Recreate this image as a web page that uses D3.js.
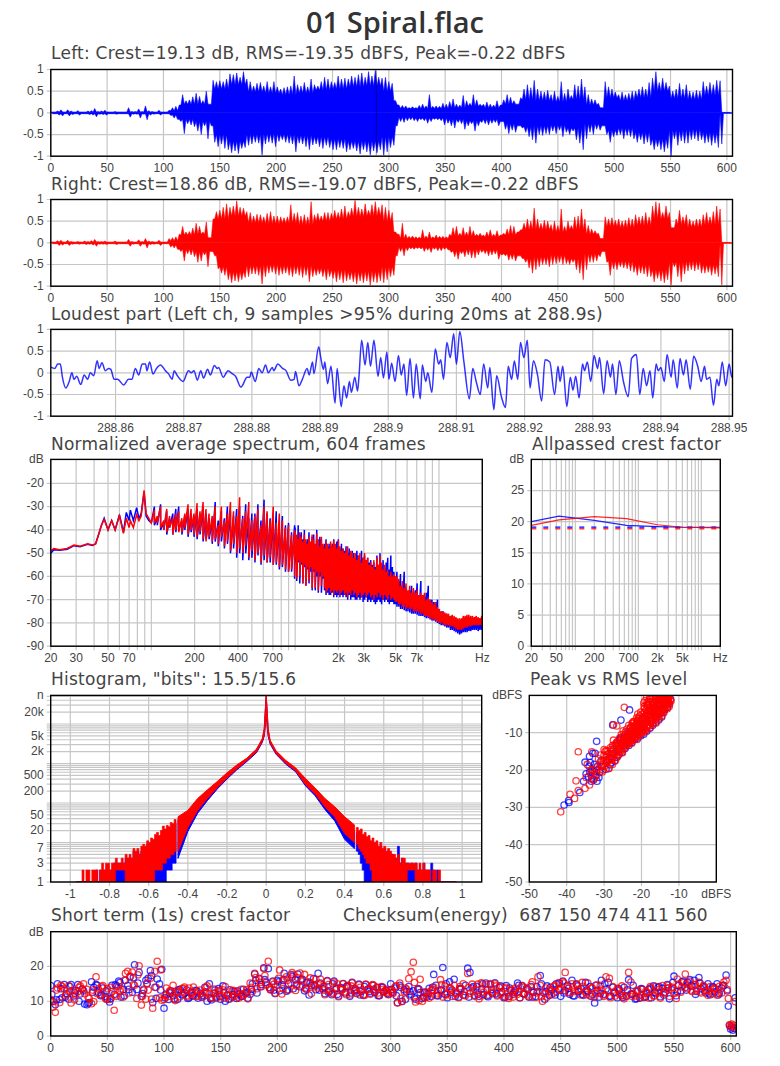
<!DOCTYPE html>
<html>
<head>
<meta charset="utf-8">
<script src="https://cdn.jsdelivr.net/npm/d3@7"></script>
<style>
  html, body { margin: 0; background: #fff; overflow: hidden; }
  svg { display: block; }
</style>
</head>
<body>
<svg id="chart" width="780" height="1066"></svg>
<script>
// waveform peaks, one value every 3 s
const waveStep = 3;
const leftTop = [
  .02,.02,.04,.07,.02,.07,.04,.02,.05,.02, .02,.04,.05,.1,.03,.04,.06,.02,.02,.03,
  .02,.02,.02,.12,.03,.03,.09,.03,.16,.05, .03,.02,.06,.02,.02,.06,.12,.15,.18,.42,
  .28,.3,.37,.45,.38,.28,.5,.2,.75,.72, .74,.72,.78,.9,.88,.92,.82,.95,.78,.72,
  .62,.68,.7,.62,.72,.6,.72,.6,.55,.58, .6,.62,.85,.65,.62,.7,.6,.78,.65,.62,
  .72,.82,.78,.72,.7,.85,.78,.8,.78,.85, .82,.88,.92,.82,.95,.85,.98,.82,.8,.82,
  .72,.68,.28,.18,.17,.16,.12,.14,.12,.17, .2,.16,.42,.15,.16,.15,.22,.2,.26,.32,
  .2,.18,.4,.28,.22,.42,.3,.2,.2,.25, .2,.18,.28,.18,.3,.42,.36,.28,.2,.35,
  .55,.65,.58,.75,.55,.5,.48,.52,.42,.5, .38,.72,.45,.55,.4,.65,.62,.78,.6,.42,
  .32,.3,.22,.12,.72,.6,.55,.48,.42,.48, .42,.45,.5,.5,.55,.6,.55,.7,.8,.95,
  .7,.8,.7,.62,.5,.55,.68,.55,.65,.5, .48,.52,.5,.72,.62,.7,.65,.75,.74,.01, .01,.01];
const leftBottom = [
  -.02,-.02,-.05,-.07,-.02,-.07,-.04,-.02,-.05,-.02, -.02,-.04,-.05,-.09,-.03,-.04,-.05,-.02,-.02,-.03,
  -.02,-.02,-.02,-.1,-.03,-.03,-.12,-.03,-.16,-.05, -.03,-.02,-.05,-.02,-.02,-.06,-.12,-.15,-.2,-.48,
  -.25,-.28,-.32,-.42,-.5,-.3,-.6,-.3,-.68,-.78, -.72,-.82,-.85,-.92,-.88,-.94,-.82,-.8,-.75,-.72,
  -.68,-.7,-.97,-.72,-.68,-.7,-.78,-.66,-.62,-.68, -.7,-.72,-.9,-.7,-.72,-.78,-.85,-.74,-.72,-.78,
  -.82,-.75,-.8,-.85,-.85,-.8,-.82,-.9,-.85,-.82, -.88,-.95,-.85,-.9,-.97,-.88,-.92,-.85,-.98,-.9,
  -.8,-.75,-.3,-.2,-.22,-.18,-.16,-.18,-.2,-.16, -.18,-.24,-.2,-.15,-.16,-.18,-.28,-.24,-.3,-.35,
  -.22,-.25,-.38,-.3,-.25,-.42,-.3,-.22,-.25,-.28, -.24,-.22,-.3,-.2,-.38,-.48,-.4,-.45,-.3,-.35,
  -.45,-.55,-.62,-.7,-.5,-.52,-.48,-.5,-.42,-.48, -.4,-.55,-.45,-.5,-.42,-.62,-.7,-.85,-.6,-.45,
  -.5,-.38,-.4,-.3,-.5,-.68,-.55,-.52,-.5,-.6, -.52,-.55,-.6,-.68,-.62,-.72,-.68,-.75,-.85,-.78,
  -.85,-.9,-.82,-1,-.6,-.75,-.65,-.7,-.7,-.62, -.6,-.65,-.62,-.7,-.68,-.75,-.7,-.8,-.72,-.01, -.01,-.01];
const rightTop = [
  .02,.02,.05,.06,.02,.06,.03,.02,.03,.02, .04,.03,.05,.08,.03,.03,.04,.02,.02,.04,
  .02,.02,.02,.08,.03,.02,.07,.03,.1,.04, .03,.02,.06,.02,.02,.1,.12,.14,.2,.38,
  .25,.26,.34,.45,.38,.25,.48,.12,.55,.72, .75,.82,.9,.82,.85,.97,.82,.8,.72,.7,
  .62,.66,.65,.6,.68,.72,.62,.62,.6,.58, .6,.88,.68,.7,.62,.65,.6,.95,.65,.68,
  .62,.7,.7,.68,.75,.7,.78,.85,.72,.8, .98,.82,.78,.9,.75,.88,.95,.82,.88,.82,
  .75,.7,.25,.2,.45,.2,.15,.16,.14,.13, .3,.16,.25,.14,.18,.15,.15,.14,.2,.35,
  .38,.22,.35,.25,.38,.28,.2,.22,.18,.25, .3,.2,.28,.18,.22,.32,.4,.38,.25,.3,
  .45,.55,.5,.8,.55,.45,.52,.5,.42,.5, .4,.78,.38,.5,.4,.6,.62,.78,.55,.4,
  .32,.28,.22,.1,.6,.55,.58,.52,.55,.5, .52,.58,.55,.65,.6,.62,.7,.6,.85,.95,
  .92,.7,.85,.7,.35,.55,.75,.6,.65,.55, .5,.55,.55,.65,.7,.6,.72,.85,.78,.01, .01,.01];
const rightBottom = [
  -.02,-.02,-.06,-.05,-.02,-.06,-.03,-.02,-.03,-.02, -.04,-.03,-.05,-.08,-.03,-.03,-.04,-.02,-.02,-.04,
  -.02,-.02,-.02,-.08,-.03,-.02,-.08,-.03,-.12,-.04, -.03,-.02,-.06,-.02,-.02,-.1,-.12,-.15,-.2,-.42,
  -.25,-.28,-.32,-.45,-.42,-.28,-.55,-.2,-.3,-.6, -.7,-.75,-.85,-.92,-.88,-.9,-.85,-.8,-.78,-.72,
  -.72,-.75,-.95,-.78,-.7,-.68,-.72,-.75,-.72,-.7, -.75,-.78,-.72,-.75,-.8,-.75,-.9,-.78,-.75,-.72,
  -.78,-.85,-.78,-.82,-.9,-.85,-.92,-.88,-.85,-.9, -.95,-.88,-.92,-.88,-.98,-.9,-.92,-.88,-.92,-.85,
  -.78,-.75,-.3,-.2,-.3,-.18,-.14,-.15,-.13,-.14, -.2,-.17,-.22,-.15,-.18,-.18,-.15,-.16,-.22,-.32,
  -.38,-.25,-.32,-.28,-.35,-.35,-.28,-.22,-.25,-.3, -.28,-.26,-.38,-.28,-.3,-.4,-.38,-.42,-.3,-.36,
  -.45,-.58,-.7,-.62,-.55,-.5,-.5,-.55,-.5,-.48, -.45,-.5,-.48,-.5,-.45,-.62,-.7,-.85,-.62,-.45,
  -.45,-.42,-.32,-.2,-.45,-.75,-.6,-.62,-.55,-.58, -.6,-.65,-.68,-.75,-.7,-.72,-.78,-.78,-.9,-.82,
  -.88,-.92,-.85,-.97,-.55,-.78,-.9,-.72,-.65,-.62, -.65,-.62,-.7,-.7,-.68,-.75,-.72,-.78,-.97,-.01, -.01,-.01];
// solid body of the waveforms, one value every 15 s
const bodyStep = 15;
const leftBodyTop = [.02,.02,.02,.02,.02,.02,.02,.05,.2,.2,.55,.65,.48,.45,.42,.45,.52,.55,.6,.62,.5,.1,.1,.1,.12,.15,.12,.2,.3,.28,.25,.3,.18,.35,.28,.35,.5,.33,.3,.4,.01];
const leftBodyBottom = [-.02,-.02,-.02,-.02,-.02,-.02,-.02,-.05,-.15,-.2,-.5,-.65,-.5,-.48,-.5,-.52,-.55,-.6,-.65,-.65,-.55,-.1,-.12,-.12,-.15,-.18,-.15,-.25,-.32,-.3,-.28,-.35,-.25,-.4,-.35,-.45,-.6,-.4,-.38,-.45,-.01];
const rightBodyTop = [.02,.02,.02,.02,.02,.02,.02,.05,.18,.2,.55,.62,.46,.44,.45,.42,.5,.55,.6,.62,.5,.1,.1,.1,.16,.15,.14,.18,.3,.3,.25,.3,.2,.38,.35,.4,.55,.42,.36,.42,.01];
const rightBodyBottom = [-.02,-.02,-.02,-.02,-.02,-.02,-.02,-.05,-.15,-.2,-.55,-.66,-.52,-.5,-.52,-.52,-.58,-.62,-.66,-.65,-.55,-.1,-.1,-.1,-.18,-.15,-.16,-.25,-.36,-.32,-.28,-.36,-.25,-.42,-.42,-.5,-.62,-.44,-.42,-.5,-.01];
const waveTicks = [0,50,100,150,200,250,300,350,400,450,500,550,600];
const unitTicks = [-1,-0.5,0,0.5,1];
const loudestMark = 288.9;

// loudest part: ms after 288.85 s, and level
const loudMs = [.5,1.1,1.5,1.9,2.2,2.7,3.2,3.6,3.9,4.3,4.9,5.4,5.9,6.3,6.8,7.3,7.6,8,8.5,9,9.3,9.8,10.3,11.2,11.9,12.4,12.9,13.4,13.9,14.4,14.6,15,15.5,16,16.6,17.3,17.8,18.3,18.6,19,19.9,20.7,21.1,21.5,22,22.5,22.9,23.5,23.9,24.5,24.9,25.1,25.8,26.5,27.1,27.6,28.4,29.3,29.7,29.9,30.5,31,31.5,32,32.4,33,33.2,33.8,34.5,35,35.7,36.2,36.4,36.9,37.4,38.1,38.4,38.9,39.1,39.8,40.1,40.5,40.7,41.1,41.6,42.2,42.5,43.1,43.5,43.9,44.3,44.6,45.1,45.5,45.7,46.1,46.6,47,47.4,47.9,48.5,
  48.9,49.3,49.8,50.1,50.5,51,51.5,51.9,52.3,52.7,53.2,53.7,54.1,54.7,55,55.5,55.8,56.4,56.9,57.4,57.7,58.1,58.6,59.1,59.6,60,60.5,61.1,61.9,62.4,62.9,63.5,64,64.6,64.9,65.5,65.9,66.6,67.2,67.6,68.1,68.5,69,69.4,69.9,70.4,70.8,71.3,71.9,72.5,73,73.7,74.4,74.9,75.2,75.6,76.2,76.7,77.1,77.5,78,78.5,78.8,79.2,79.7,80.2,80.7,81,81.6,82.1,82.6,82.9,83.4,83.9,84.5,85.2,85.7,86.4,86.9,87.4,87.9,88.4,88.8,89.3,89.6,90,90.5,90.9,91.5,91.8,92.4,92.8,93.3,93.7,94.3,94.8,95.4,95.9,96.4,96.7,97.2,97.7,98.2,98.5,99,99.5,100,100.4,100.6];
const loudLevel = [.13,.1,.2,.2,-.1,-.35,-.2,0,-.15,-.08,-.27,-.05,-.15,0,-.07,.28,.1,.23,.05,.1,.08,-.15,-.15,-.28,-.15,-.15,.1,-.05,.2,.2,.05,.25,-.03,.1,.18,.05,-.03,-.15,.05,-.05,-.2,.05,0,.05,-.17,.05,-.12,.08,-.05,.17,.1,.12,-.1,.05,-.02,-.08,-.33,-.1,-.1,.02,-.2,.1,0,.18,0,.12,.05,.2,.1,.05,-.17,-.15,.03,-.3,-.15,.1,-.05,.25,-.02,.6,.35,.08,.25,-.25,.15,-.7,.1,-.78,-.3,-.58,-.2,-.45,-.1,-.42,-.1,.75,.18,.7,.15,.75,-.08,
  .35,-.12,.48,-.15,.22,-.2,.4,-.05,.2,-.52,.33,-.58,.2,-.6,.18,-.2,0,-.45,.55,.2,.3,-.15,.7,.35,.9,.2,.95,.25,-.6,.1,-.2,-.5,.2,-.35,.12,-.85,-.07,-.55,-.8,.15,-.15,.27,-.15,.7,.35,.75,-.35,.28,-.05,-.65,.3,.25,-.5,.15,-.2,.15,-.78,-.1,-.4,-.08,-.58,.2,.05,.25,-.2,.4,.1,.35,-.48,.28,-.1,.2,-.5,.28,-.2,-.55,.33,.42,-.5,.1,-.3,.05,-.58,.2,.05,.12,-.2,.42,-.1,.3,-.35,.33,-.05,.3,-.38,.38,.15,-.2,.15,-.15,-.1,-.75,-.15,-.3,.25,-.3,.2,-.1,.02];
const loudTicks = [288.86,288.87,288.88,288.89,288.9,288.91,288.92,288.93,288.94,288.95];

// average spectrum below 100 Hz
const specLowFreq = [20,21,23,26,29,32,36,39,41,43,45,47,50,53,56,60,64,67,70,71.5,75,79,82,85,89,92,96,100];
const specLowRed = [-49,-48,-48.5,-48,-46.5,-47,-46,-46.5,-46,-42,-38,-35.5,-40,-36,-40,-34,-41.5,-35,-39,-36,-39,-33.5,-36,-34,-23,-33,-35,-37];
const specLowBlue = [-50,-48.5,-48.8,-48.3,-46.8,-47.2,-46.2,-46.7,-46,-42,-38,-35,-40,-36,-40,-33.5,-41,-32.5,-36,-31.5,-36,-30.5,-35,-33,-24,-34,-36,-37];
// above 100 Hz: top and bottom of the comb per frequency
const combFreq = [105,110,116,122,128,134,141,148,155,163,171,180,189,198,208,218,229,240,252,265,278,292,307,322,338,355,373,392,411,432,453,476,500,525,551,579,608,638,670,704,739,776,815,856,899,944,991,
  1000,1025,1050,1076,1103,1131,1159,1188,1218,1248,1280,1312,1345,1378,1413,1448,1485,1522,1560,1599,1639,1680,1722,1765,1809,1854,1901,1948,1997,2047,2098,2151,2204,2259,2316,2374,2433,2494,2557,2620,2686,2753,2822,2893,2965,3039,3115,3193,3273,3355,3439,3525,3613,3703,3796,3891,3988,4088,4190,4295,4402,4512,4625,4741,4859,4981,
  5100,5250,5400,5560,5730,5900,6080,6260,6450,6640,6840,7050,7260,7480,7700,7930,8170,8420,8670,8930,9200,9470,9760,10050,10350,10660,10980,11310,11650,12000,12360,12730,13110,13500,13910,14330,14760,15200,15660,16130,16610,17110,17620,18150,18700,19260,19840,20000];
const combRedHi = [-31.5,-34,-30,-36,-31,-34,-35,-33,-32,-35,-33,-29,-31,-33,-28.5,-32,-28,-31,-33,-34,-30,-38,-30,-36,-33,-28,-32,-34,-26,-35,-32,-28,-36,-34,-31,-38,-30,-32,-36,-30,-37,-33,-36,-39,-38,-42,-40,
  -41,-42,-44,-41,-43,-45,-42,-44,-46,-43,-45,-42,-44,-46,-41.5,-44,-47,-43,-46,-48,-45,-46,-48,-45,-47,-44.5,-46,-48,-44.5,-47,-49,-48,-50,-49,-47,-51,-49,-50,-52,-50,-53,-51,-50,-54,-52,-50,-53,-52,-55,-54,-56,-53,-57,-52,-55,-51,-54,-57,-55,-58,-57,-60,-58,-60,-59,-60,
  -60,-61,-64,-62,-65,-63,-66,-64,-67,-65,-67,-66,-68,-67,-68,-67,-70,-69,-70,-71,-72,-71,-73,-74,-75,-75,-75.5,-76,-76,-77,-76.5,-77,-77.5,-78,-78,-78,-77,-77,-76.5,-76.5,-77,-77,-77.5,-77,-77.5,-78,-77,-78];
const combRedLo = [-37,-37,-39,-40,-41,-39,-42,-40,-41,-41,-39,-42,-40,-42,-43,-41,-44,-45,-43,-45,-44,-46,-43,-47,-45,-49,-46,-50,-48,-50,-47,-52,-49,-53,-50,-54,-51,-54,-52,-55,-54,-56,-55,-57,-58,-57,-60,
  -52,-61,-53,-60,-54,-63,-55,-64,-56,-62,-56,-65,-57,-65,-58,-66,-58,-64,-60,-65,-67,-66,-65,-67,-66,-68,-66,-67,-66,-68,-67,-66,-68,-67,-69,-67,-68,-66,-68,-67,-69,-68,-67,-69,-68,-67,-69,-68,-67,-69,-68,-70,-68,-69,-67,-69,-68,-70,-68,-69,-70,-68,-70,-69,-70,-71,
  -71,-72,-72,-73,-73,-74,-73.5,-74,-74,-75,-75,-75,-75.5,-76,-76,-77,-77,-77.5,-78,-78.5,-78.5,-79,-79.5,-80,-80,-80.5,-81,-81,-81,-81.5,-81.5,-82,-82.5,-83,-83,-83,-82.5,-82,-82,-81.5,-81.5,-81,-81,-81,-81,-81,-81,-81];
const combBlueHi = [-30,-35,-29,-37,-32,-35,-33,-31,-30,-36,-34,-31,-33,-34,-31,-33,-30,-33,-35,-36,-28,-36,-32,-35,-30,-32,-34,-31,-30,-34,-29,-35,-33,-33,-29,-36,-27,-33,-35,-33,-32,-38,-34,-38,-37,-41,-38,
  -39,-43,-38,-42,-41,-44,-40,-45,-44,-41,-46,-43,-42,-47,-40,-45,-43,-44,-47,-46,-44,-47,-46,-47,-46,-44,-47,-45,-44,-48,-46,-48,-49,-47,-50,-48,-51,-49,-50,-52,-49,-51,-53,-49,-52,-51,-53,-52,-54,-53,-55,-54,-56,-51,-56,-50,-55,-53,-58,-54,-52,-57,-51,-56,-58,-60,
  -58,-62,-59,-64,-58,-65,-67,-66,-64,-68,-66,-63,-68,-62,-68,-69,-67,-64,-70,-70,-71,-71,-70,-74,-75,-75,-76,-76,-77,-77,-77,-78,-78,-79,-79,-79,-79,-78,-78,-78,-78,-78,-78,-78,-78,-78,-78,-78];
const combBlueLo = [-38,-38,-40,-40,-42,-39,-42,-41,-40,-42,-40,-43,-41,-43,-44,-42,-45,-44,-44,-46,-45,-47,-45,-48,-46,-50,-48,-52,-50,-53,-50,-53,-52,-54,-51,-55,-53,-54,-54,-55,-55,-57,-56,-58,-58,-58,-61,
  -54,-62,-54,-63,-55,-63,-56,-64,-57,-63,-58,-66,-58,-66,-60,-67,-60,-67,-61,-66,-68,-67,-68,-68,-67,-69,-68,-69,-68,-69,-68,-69,-68,-69,-70,-68,-70,-69,-69,-70,-70,-69,-70,-69,-71,-70,-69,-71,-70,-71,-70,-71,-72,-71,-70,-71,-72,-70,-71,-70,-71,-72,-71,-71,-72,-72,
  -73,-73,-74,-74,-74.5,-75,-75,-75.5,-76,-76,-76,-76.5,-77,-77,-77,-77.5,-78,-78,-78.5,-79,-79,-79.5,-80,-80.5,-81,-81,-81.5,-82,-82,-83,-83,-83.5,-84,-84.5,-85,-84.5,-84,-84,-84,-83.5,-83.5,-83,-83,-83,-83.5,-83,-83,-83];
const specYTicks = [-90,-80,-70,-60,-50,-40,-30,-20];
const specXLabelValues = [20,30,50,70,200,400,700,2000,3000,5000,7000,20000];
const specXLabelTexts = ['20','30','50','70','200','400','700','2k','3k','5k','7k','Hz'];

// allpassed crest factor
const crestFreq = [20,55,200,650,2000,5000,20000];
const crestBlue = [20,20.9,20.2,19.4,19.2,19.1,19.1];
const crestRed = [19.4,20.3,20.8,20.5,19.5,19.1,19];
const crestBlueFlat = 19.13;
const crestRedFlat = 18.86;
const crestYTicks = [0,5,10,15,20,25];
const crestXLabelValues = [20,50,200,700,2000,5000,20000];
const crestXLabelTexts = ['20','50','200','700','2k','5k','Hz'];

// histogram middle part
const histCoreX = [-.45,-.4,-.35,-.3,-.25,-.2,-.15,-.1,-.05,-.02,-.01,-.005,0,.005,.01,.02,.05,.1,.15,.2,.25,.3,.35,.4,.45];
const redCoreHi = [45,65,130,215,350,580,920,1350,2300,4300,7800,22000,53000,22000,7800,3900,2100,1200,780,420,240,130,80,45,28];
const redCoreLo = [6,24,65,130,245,430,730,1170,1960,3600,5300,9300,20000,9300,5300,3300,1800,1010,660,295,170,80,44,17,10];
const blueCoreHi = [38,55,110,190,320,530,850,1280,2200,4000,7000,20000,53000,20000,7000,3700,2000,1130,720,380,210,110,65,36,20];
const blueCoreLo = [4,19,55,115,225,405,690,1110,1860,3400,4900,8700,20000,8700,4900,3100,1720,960,620,275,152,68,35,12,7];
// histogram tails, |level| from .46 to .97 in steps of .01
const tailStart = 0.46;
const tailStep = 0.01;
const redLeftHi = [38,30,32,25,27,22,26,20,15,18,16,12,13,10,11,8,9,8,5,7,6,7,4,5,4,5,3,4,3,3,4,3,3,2,3,3,2,3,2,1,2,2,2,1,2,2,1,2,1,1,1,1];
const redLeftLo = [6,5,5,4,4,3,3,2,2,2,2,1,1,1,1,1,1,1,1,1,1,1,1,1,1,1,2,2,2,2,2,1,1,1,1,1,1,1,1,1,1,1,1,1,1,1,1,1,1,1,1,1];
const blueLeftHi = [30,26,24,20,22,17,20,15,13,14,12,10,10,8,9,7,7,6,5,6,5,6,4,4,4,4,3,3,3,3,3,3,2,2,2,2,2,2,2,1,2,1,1,1,1,1,1,1,1,1,1,1];
const blueLeftLo = [3,3,2,2,2,1,1,1,1,1,1,1,1,1,1,1,1,1,1,1,1,1,1,1,1,1,1,1,1,1,1,1,1,1,1,1,1,1,1,1,1,1,1,1,1,1,1,1,1,1,1,1];
const redRightHi = [24,20,22,16,18,14,15,11,13,10,11,8,10,7,8,6,7,6,5,5,4,5,3,4,4,3,3,3,3,3,3,2,3,2,3,2,2,2,1,2,2,1,2,1,1,1,1,1,1,1,1,1];
const redRightLo = [9,7,6,5,4,3,3,2,1,1,1,1,1,1,1,1,1,1,1,1,1,1,1,1,1,1,2,2,2,2,1,1,1,1,1,1,1,1,1,1,1,1,1,1,1,1,1,1,1,1,1,1];
const blueRightHi = [18,15,16,12,14,10,12,9,10,8,9,6,8,6,7,5,6,5,5,4,4,8,3,4,3,3,3,2,3,2,3,2,2,2,3,2,2,2,3,2,1,2,1,1,1,1,1,1,1,1,1,1];
const blueRightLo = [6,5,3,2,1,1,1,1,1,1,1,1,1,1,1,1,1,1,1,1,1,1,1,1,1,1,1,1,1,1,1,1,1,1,1,1,1,1,1,1,1,1,1,1,1,1,1,1,1,1,1,1];
const histXTicks = [-1,-0.8,-0.6,-0.4,-0.2,0,0.2,0.4,0.6,0.8,1];
const histYLabelValues = [1,3,7,20,50,200,500,2000,5000,20000];
const histYLabelTexts = ['1','3','7','20','50','200','500','2k','5k','20k'];
const histTop = 53000;

// peak vs rms
const pvrRedRms = [-41.6,-39.1,-37.9,-36.9,-37.5,-36.9,-33.3,-35.1,-33.9,-34.8,-24.6,-27.5,-26.6,-33.5,-32.8,-34.5,
  -33.5,-33,-32.6,-32.2,-32,-31.5,-31.3,-31,-30.8,-30.5,-30.2,-30,-29.8,-29.5,-29.2,-29,-28.8,-28.5,-28.2,-28,-27.8,-27.5,-27.2,-27,-26.8,
  -26.5,-26.4,-26.2,-26,-25.9,-25.7,-25.5,-25.4,-25.2,-25,-24.9,-24.7,-24.5,-24.4,-24.2,-24,-23.9,-23.7,-23.5,-23.4,-23.2,-23,-22.9,-22.7,-22.5,-22.4,-22.2,-22,
  -21.9,-21.7,-21.6,-21.4,-21.3,-21.1,-21,-20.8,-20.7,-20.5,-20.4,-20.2,-20.1,-19.9,-19.8,-19.6,-19.5,-19.3,-19.2,-19,-18.9,-18.7,-18.6,-18.4,-18.3,-18.1,-18,-17.8,-17.7,-17.5,-17.4,-17.2,-17.1,-16.9,-16.8,-16.6,-16.5,-16.3,-16.2,-16,-15.9,-15.7,-15.6,-15.4,-15.3,-15.1,-15,-14.8,-14.7,-14.5,-14.4,-14.2,-14.1,-13.9,-13.8,-13.6,-13.5,-13.3,-13.2,-13,-12.9,-12.7,-12.5,-12.3,-12.1,
  -23.8,-23.3,-22.8,-22.6,-22.3,-22.1,-21.8,-21.5,-21.2,-20.9,-20.6,-20.3,-20,-19.7,-19.4,-19.1,-18.8,-18.5,-18.2,-17.9,-17.6,-17.3,-17,-16.7,-16.4,-16.1,-15.8,-15.5,-15.2,-14.9,-14.6,-14.3,-14,-13.7,-13.4,-13.1,-12.8,-12.6,
  -19.8,-19.2,-18.8,-18.2,-17.8,-17.4,-17,-16.6,-16.2,-15.8,-15.4,-15,-14.6,-14.2,-13.8,-13.4,-18.5,-17.7,-16.9,-16.1,-15.3,-14.5,-13.7,-12.9,
  -31,-30.3,-29.7,-29.3,-28.7,-28.3,-27.9,-27.3,-26.9,-26.3,-25.8,-25.3,-24.8,-24.3,-23.8,-23.4,-23,-22.6,-22.2,-21.8,-21.4,-21,-20.6,-20.2,-19.8,-19.4,-19,-18.6,-18.2,-17.8,-17.4,-17,-16.6,-16.2,-15.8,-15.4,-15,-14.6,-14.2,-13.8,-13.4,-13,
  -19.1,-18.4,-17.7,-17,-16.3,-15.6,-14.9,-14.2,-13.5,-12.8,
  -24.1,-23.5,-22.9,-22.3,-21.7,-21.1,-20.5,-19.9,-19.3,-18.7,-18.1,-17.5,-16.9,-16.3,-15.7,-15.1,-14.5,-13.9,-13.3,-12.7,
  -21,-20.2,-19.4,-18.6,-17.8,-17,-16.2,-15.4,-14.6,-13.8,
  -30.6,-30,-29.6,-29,-28.6,-28.1,-27.7,-27.1,-26.7,-26.1,-25.6,-25.1,-24.6,-24.1,-23.6,-23.1,-22.6,-22.1,-21.6,-21.1,
  -29.4,-28.9,-28.4,-27.9,-27.4,-26.9,-26.4,-25.9,-25.4,-24.9,-24.4,-23.9,-23.4,-22.9,-22.4,-21.9,-21.4,-20.9,-20.4,-19.9];
const pvrRedPeak = [-31.2,-26.5,-27.6,-25.5,-22.9,-15.1,-15.1,-24.9,-24,-22,-3.2,-7.9,-8.2,-20,-22.5,-18.5,
  -21,-20,-22,-19.5,-21.5,-17,-20,-16,-19,-20.5,-17.5,-14.5,-19,-16.5,-18,-15,-19.5,-17,-14.5,-16,-18.5,-12,-15.5,-17.5,-13.5,
  -16.5,-12.5,-14.5,-15.8,-11.5,-13.5,-15,-10.5,-13,-14.5,-9.5,-12,-14,-10.5,-12.5,-13.5,-9,-11.5,-13,-8,-10.5,-12.5,-8.5,-11,-7.5,-12,-9.5,-11.5,
  -7,-10.5,-8,-10.8,-6,-9.5,-11,-7.5,-10,-5.5,-9,-6.8,-10.3,-8,-5,-9.5,-6.5,-8.8,-4.5,-9.2,-7,-3.8,-8.5,-5.5,-7.8,-4,-8.2,-6,-3.2,-7.4,-5,-2.5,-6.8,-4.4,-7.5,-2,-5.8,-3.5,-6.4,-1.5,-5,-3,-5.6,-1,-4.2,-2.4,-4.8,-.7,-3.6,-1.8,-4.2,-.5,-3,-1.2,-3.6,-.4,-2.4,-1,-3,-.5,-2,-.6,-2.4,-1.2,-1.5,
  -11,-12,-9.5,-12.8,-10.8,-8.5,-11.5,-9,-11.8,-8,-10.6,-7.4,-9.4,-6,-10,-7.6,-9.4,-4.8,-8,-6,-8.6,-4,-7.6,-5.2,-3,-7.4,-4.4,-2.2,-6.2,-3.4,-5.5,-2,-4.6,-2.8,-1.4,-3.6,-1.8,-3,
  -7.8,-3.5,-6.2,-2.4,-5.2,-7,-1.6,-4.8,-2.6,-6,-3.6,-1,-4.6,-2.8,-.8,-2.2,-1.8,-4.2,-2.4,-3.6,-1.4,-.6,-2,-1,
  -18,-20,-15,-17.6,-19.6,-14,-17,-13.4,-15.4,-12.8,-14.2,-11.2,-12.4,-9.8,-12,-10.2,-11.6,-9.4,-7,-9.2,-7.6,-8.6,-6.2,-8.2,-6,-7.6,-5.4,-7.2,-5,-6.6,-4,-6,-3.2,-5.4,-2.4,-5,-2,-3.8,-1.2,-3,-.6,-2,
  -1.4,-2.8,-.9,-3.4,-1,-2.6,-.5,-2.2,-.4,-1.5,
  -13,-12.6,-11,-10.4,-8.2,-7,-8.4,-9,-3,-2.5,-1.6,-1,-.7,-.6,-.4,-.3,-1,-.8,-.3,-.4,
  -5,-4.5,-2,-.4,-.3,-2.8,-.5,-.6,-1,-1.3,
  -18.6,-16,-17.8,-15.8,-17.4,-16.8,-13.4,-16.6,-12.6,-14.6,-12.8,-15.4,-11.8,-13,-11,-9.6,-10.4,-8,-9.8,-6.8,
  -14.8,-17,-15.6,-17.2,-14.4,-15.2,-13.8,-14.8,-11.8,-12.4,-13.2,-11.4,-10.4,-12.2,-7.4,-9,-10,-6.2,-8.6,-9.8];
const pvrBlueRms = [-40.7,-39.5,-39.4,-36.5,-35.5,-32,-35.1,-33.9,-33,-27.7,-25.5,-23.2,-34.8,-34,-33.3,-32.6,-32,-31.4,-33.7,-32.4,-30.8,-29.5,-28,
  -28,-27.2,-26.8,-26.2,-25.8,-25.2,-24.8,-24.4,-23.8,-23.4,-23,-22.6,-22.2,-21.8,-21.4,-21,-20.6,-20.2,-19.8,-19.4,-19,-18.6,-18.2,-17.8,-17.4,-17,-16.6,-16.2,-15.8,-15.4,-15,-14.6,-14.2,-13.8,-13.4,-13,-12.6,-12.2,
  -34.2,-33.8,-33.2,-32.8,-32.2,-31.8,-31.2,-30.5,-33.4,-32.6,-31.9,-29.2,-28.4,-27.6,-26.6,-25.6,-24.6];
const pvrBluePeak = [-29.4,-28.2,-28.7,-26,-23,-12.3,-17.9,-16.3,-15.5,-7.9,-6.6,-3.9,-21,-19,-22.3,-18.5,-20,-22,-18,-15.5,-17.5,-19.8,-18,
  -15,-17.5,-13,-16,-12,-15.2,-11.5,-14.2,-10,-13.4,-8.8,-12.6,-10.8,-11.8,-9,-11.4,-7.5,-10.8,-6.5,-10.4,-5.5,-9.6,-4.2,-8.8,-5.5,-8,-3.5,-7.2,-4.6,-6.6,-2.4,-5.8,-4.6,-3.8,-1.5,-3.2,-2.2,-1,
  -21.8,-20.5,-20,-22.6,-21.4,-19,-20.6,-19,-23,-20.4,-23,-17.2,-18.6,-15.6,-16.6,-11.4,-13.4];
const pvrXTicks = [-50,-40,-30,-20,-10];
const pvrYTicks = [-50,-40,-30,-20,-10];

// short term crest factor: even seconds, every fourth second in between, last seconds apart
const stStep = 2;
const stRed = [10.5,8.3,6.8,13.8,9.6,14.2,13.5,12,14.5,9.5,13,11.8,12.8,14.4,13.5,12.2,13.4,10.8,9.3,9.9,
  17,13.6,11.9,14.5,11,13.6,10.5,12.8,7.4,11.4,14.2,13.5,11.2,18,18.6,17.2,18.4,14.6,10.8,20.2,
  8.9,13.4,10.6,13.2,16.6,8,18.6,21.5,11,10.3,
  10.5,13.8,11.4,12.6,14.6,10.2,12.9,11.3,13.6,14.1,11.6,13.8,12.1,14.1,11.4,12.4,13.2,11.2,12.6,14.4,
  12.1,11.1,13.5,10.8,12.9,11.5,13.3,14.2,11.6,10.7,13,11.4,12.7,10.9,13.4,11.7,12.4,10.7,
  15.2,12.8,18,13.6,16.4,14.2,19.4,14.8,21.5,13.2,15.6,12.4,14.6,19,12.1,16.3,17,13.3,15.2,17.6,13.1,16.8,18.1,14.6,17.7,13.5,15.6,12.2,14.8,16.3,13.8,16.4,
  14.2,11.9,15.8,13,12.4,15.5,14,11.3,13.6,15,12.7,14.6,11.8,15.3,13.4,12.2,14.7,13,11.9,14.9,13.2,12,14.8,12.8,13.9,11.7,14.2,12.6,13.4,11.9,
  13.2,12.2,14.2,9.5,15.2,9.9,12.8,13.5,16.5,18.5,21.2,9.8,13.5,16.3,10,
  11,12.6,10.9,13.1,14.1,11.7,13,16.2,11.2,14.4,12.2,13.8,11.4,14.6,12,11,13.5,15,11.6,18,
  12.3,14.9,11.4,13.2,10.7,15.3,12.6,14.8,11.8,15.1,12.4,15,11.5,14.2,12.8,11.2,14,10.8,13.3,11.2,
  13.8,12,11,14.4,12.2,13.6,11.3,14.8,12.9,11.1,17,14.6,10,12.2,11.2,13.5,11.9,14.3,12.8,15.3,
  13.2,15.6,18.3,14.2,12.4,15,12.8,14.9,13.4,11.8,14.3,12.6,15.2,11.6,13.8,11.2,14.7,12.6,13.1,11.4,
  17,13,11,14.2,11.5,13.7,12,14.4,10.7,11.5,18.3,15.5,12.3,11.5,13.2,11,13.4,11.2,12.5,10.9,
  13.6,11.6,14.2,12.4,10.9,14.5,12.6,13.8,11.4,14.1,12.2,10.8,14.9,12.6,15.3,17.8,13.6,15.7,12.8,14.8,
  13.2,15.4,12.4,14.5,13,11.7,14.2,12.2,13.7,11.8,14.3,12.4,15.5,16,10.8];
const stBlue = [14.5,10,9,15,10.5,11,14.8,12.2,10.6,14.8,11.5,13,14.8,12.1,13.5,9.2,9,9.6,15.6,14,
  14.8,12.5,11.6,13.8,11.4,10.6,9.8,14.6,12,14.4,15.8,11.2,13.4,16,14.5,17,12.6,20.5,13.4,18.3,
  11.4,13.2,16,16.6,18.8,9.6,14,16.4,15,19.2,
  8,12,10.5,13,11.6,12.8,10.6,13.4,11.8,12.4,13.2,11,12.6,11.5,13.1,10.9,12.2,11.7,14,10,
  15,10.4,12.3,11.2,13.6,10.6,14.4,10,11.8,13.3,11.2,12.8,10.8,12.1,11.4,13.4,12.2,10.9,
  12,15,17.8,12.4,16.6,14.8,19.6,15.4,19.4,13.4,15.8,12.2,16,13,14.8,18,12.9,15,17.6,13.6,16.2,17.8,14.2,16.4,13,15.4,11.8,14.5,16.5,13.3,18,15.2,
  13.6,12.2,15.9,12.9,11.9,15.8,13.6,11.5,13.9,15.1,12.4,14.4,11.4,15.4,13.1,12.4,14.9,12.8,11.7,14.8,13.5,12.3,14.6,12.5,14,11.6,14.1,12.8,13.1,12,
  15,12.6,13.8,9.6,14.6,10,13.3,12.7,14.2,12,13,10.6,13.6,12.5,10.8,
  12.6,11.2,13.7,11.4,17.7,14.6,11.6,13.2,19.7,12,11,15.6,13.2,16.3,12.4,11.2,13.6,11.8,14.6,19.5,
  18.3,13.8,11.7,14.2,11.4,13.5,12,15.2,11.3,14.8,12.2,15.3,11.8,13.9,12.6,11,14.5,11.3,13.1,12,
  13,15.2,11,14.5,12,13.8,11.2,14.2,12.6,11.4,12.8,17.4,12.6,10.6,14.4,11.7,13.3,12.4,15,13.6,
  11.4,15.8,13,14.6,12,16,11.5,14.9,12.8,13.6,11.7,15.4,12.9,14.2,12,9.5,13.1,11.2,16,12,
  13.5,15.4,11.5,14,12.6,11,13.2,11.6,14,11.4,16.2,12.1,14.6,10.6,12.8,10.9,13.5,11.1,12.2,13.4,
  11,14.4,12.2,14,11.3,13.7,12.6,14.8,10.7,13.3,17.2,11.6,14.5,13,15.8,14,15.4,16.2,14.4,16,
  12.8,16.8,13.6,14.2,12.4,15,11.9,14.2,12.7,15,12.2,13.8,14.6,17.5,8.6];
const stRedBetween = [9.8,13.2,14.6,11.6,12.8,10.4,13.9,15,11.2,13.2,12.2,14.2,10.6,14,11.8,13,16,12.4,14.8,17.6,11.4,15.2,10.6,14,19,
  11.6,13,10.8,12.6,13.7,11.3,12.9,11.4,12.2,13.9,11,12.4,13,10.9,11.8,13.1,11.2,12.1,13.3,
  14,16.8,15.4,17.4,13.8,14.9,16.6,13.6,16,18.2,14.4,15.8,13.5,16.7,14.2,15,
  13.2,14.8,12.2,15,13.3,11.9,14.4,12.9,14,11.7,13.6,14.6,12.4,13.4,12.6,
  12.6,14.4,10.8,13.8,11.6,15.4,10.2,12.5,
  11.8,13.4,12.4,14.8,11.9,13.7,12.4,14.2,11.7,13.9,12.8,14.9,11.6,13.2,12.6,14.4,12,13.6,11.4,13.2,12.6,14,11.8,15.6,12.4,11.3,13.8,12.9,14.6,13.4,15.2,12.6,14.1,13,15.4,11.9,13.8,12.2,14.6,11.8,16.6,12.4,13.2,11.6,12.9,11.4,13,11.7,12.8,14.2,11.5,13.4,12.3,14.6,13.8,16.4,14.1,15,13.2,14.8,12.7,14,12.9,13.6,12.4,14.6,13.4];
const stBlueBetween = [12,10.4,13.6,11.2,14.2,12.4,10,13,9.4,12.6,14.6,11.8,12.9,10.8,14.8,15.4,11.6,13.4,16.8,15.2,12.2,15,17.4,10.8,13.2,
  11,12.4,10.6,13.3,12,10.8,11.6,13,11.2,12.6,10.8,13.2,11.4,12.4,10.6,11.9,13,11.4,12.6,
  13.4,16,14.2,16.2,14,13.2,15.6,16,13.2,17,14.8,16.2,13.8,15.2,14.6,13.2,
  14.2,12.6,15,12,13.6,14.2,12.4,13.4,11.8,14.2,12.8,13.4,11.6,14,12.2,
  13.4,11.6,14,10.6,12.8,11,13.4,11.2,
  12.2,14,11.6,13.2,15,12.6,11.4,13.6,12.8,11.2,14.2,12,15,11.6,13.4,12.2,14.4,11.2,13.8,12.6,14.6,12.2,13.4,11.2,14.2,15,12.8,14,11.8,15.2,12.4,13.7,11.6,14.4,12,13.2,11.4,14.6,12.2,15,11.4,12.6,13.6,11.1,13.3,12,10.8,13.6,11.4,13.8,12.6,14.2,11.8,13.8,15.4,12.8,15.6,13.2,14.4,12,15.2,13,12.2,14,11.8,14.4,13];
const stEndTime = [599,600,601,602,603,604];
const stEndRed = [3.2,2.7,3.4,2.5,3,9.9];
const stEndBlue = [3,2,2.6,1.7,2.2,11];
const stXTicks = [0,50,100,150,200,250,300,350,400,450,500,550,600];
const stYTicks = [0,10,20];

const BLUE = '#0000ff';
const RED = '#ff0000';
const tickFont = '"Liberation Sans", Arial, sans-serif';
const titleFont = '"DejaVu Sans", Verdana, sans-serif';

const svg = d3.select('#chart');
let clipId = 0;

svg.append('text')
  .attr('x', 395).attr('y', 33)
  .attr('text-anchor', 'middle')
  .attr('font-family', '"Open Sans", sans-serif')
  .attr('font-weight', 600)
  .attr('font-size', 29)
  .attr('fill', '#333')
  .text('01 Spiral.flac');

function heading(x, y, str) {
  svg.append('text')
    .attr('x', x).attr('y', y)
    .attr('font-family', titleFont)
    .attr('font-size', 17)
    .attr('letter-spacing', 0.25)
    .attr('fill', '#444')
    .text(str);
}

function cornerLabel(box, str) {
  svg.append('text').attr('x', box.x0 - 7).attr('y', box.y0 + 4)
    .attr('text-anchor', 'end').attr('font-family', tickFont).attr('font-size', 12).attr('fill', '#444')
    .text(str);
}

// frame, grid and tick labels of one plot; returns the group for the marks
function makePlot(box, x, y, xTicks, xLabel, yTicks, yLabel) {
  const w = box.x1 - box.x0;
  const h = box.y1 - box.y0;
  const g = svg.append('g').attr('transform', `translate(${box.x0},${box.y0})`);

  const id = `clip${clipId++}`;
  g.append('clipPath').attr('id', id)
    .append('rect').attr('width', w).attr('height', h);

  const xAxis = g.append('g')
    .attr('transform', `translate(0,${h})`)
    .call(d3.axisBottom(x).tickValues(xTicks).tickFormat(xLabel).tickSize(-h).tickPadding(7).offset(0));
  xAxis.selectAll('.tick line').attr('y1', 4).attr('y2', -h);

  const yAxis = g.append('g')
    .call(d3.axisLeft(y).tickValues(yTicks).tickFormat(yLabel).tickSize(-w).tickPadding(7).offset(0));
  yAxis.selectAll('.tick line').attr('x1', -4).attr('x2', w);

  [xAxis, yAxis].forEach((a) => {
    a.select('.domain').remove();
    a.attr('font-family', tickFont).attr('font-size', 12);
    a.selectAll('.tick line').attr('stroke', '#c6c6c6').attr('stroke-width', 1.2);
    a.selectAll('.tick text').attr('fill', '#444');
  });

  const marks = g.append('g').attr('clip-path', `url(#${id})`);
  g.append('rect')
    .attr('width', w).attr('height', h)
    .attr('fill', 'none').attr('stroke', '#000').attr('stroke-width', 1.4);
  return marks;
}

function labelFrom(values, texts) {
  return (d) => {
    const i = values.indexOf(d);
    return i < 0 ? '' : texts[i];
  };
}

// zigzag between the 3 s peaks and the body level
function peakTrace(peaks, body, phase) {
  const pts = [];
  peaks.forEach((p, i) => {
    const t = i * waveStep + phase;
    pts.push([t, p]);
    if (i + 1 < peaks.length) {
      const b = body[Math.round(t / bodyStep)];
      const next = peaks[i + 1];
      const inner = Math.sign(p) * Math.min(Math.abs(b), Math.abs(p), Math.abs(next));
      pts.push([t + waveStep / 2, inner]);
    }
  });
  return pts;
}

// waveforms
function drawWave(box, top, bottom, bodyTop, bodyBottom, color) {
  const x = d3.scaleLinear().domain([0, 605]).range([0, box.x1 - box.x0]);
  const y = d3.scaleLinear().domain([-1, 1]).range([box.y1 - box.y0, 0]);
  const marks = makePlot(box, x, y, waveTicks, (d) => d, unitTicks, (d) => d);
  const area = d3.area().x((d) => x(d[0])).y0(y(0)).y1((d) => y(d[1]));
  [[top, bodyTop, 0], [bottom, bodyBottom, 1.5]].forEach(([peaks, body, phase]) => {
    marks.append('path').attr('d', area(peakTrace(peaks, body, phase)))
      .attr('fill', color).attr('stroke', color).attr('stroke-width', 0.8).attr('stroke-opacity', 0.7);
  });
  return { marks, x, y };
}

heading(51, 59, 'Left: Crest=19.13 dB, RMS=-19.35 dBFS, Peak=-0.22 dBFS');
const leftWave = drawWave({ x0: 50.8, x1: 732.5, y0: 69.5, y1: 156.2 }, leftTop, leftBottom, leftBodyTop, leftBodyBottom, BLUE);
leftWave.marks.append('line')
  .attr('x1', leftWave.x(loudestMark)).attr('x2', leftWave.x(loudestMark))
  .attr('y1', leftWave.y(0.98)).attr('y2', leftWave.y(-0.97))
  .attr('stroke', '#000').attr('stroke-opacity', 0.45);

heading(51, 190, 'Right: Crest=18.86 dB, RMS=-19.07 dBFS, Peak=-0.22 dBFS');
drawWave({ x0: 50.8, x1: 732.5, y0: 199.5, y1: 286.2 }, rightTop, rightBottom, rightBodyTop, rightBodyBottom, RED);

// loudest part
heading(51, 320, 'Loudest part (Left ch, 9 samples >95% during 20ms at 288.9s)');
{
  const box = { x0: 50.8, x1: 732.5, y0: 329.4, y1: 416.2 };
  const x = d3.scaleLinear().domain([288.8505, 288.9505]).range([0, box.x1 - box.x0]);
  const y = d3.scaleLinear().domain([-1, 1]).range([box.y1 - box.y0, 0]);
  const marks = makePlot(box, x, y, loudTicks, (d) => d, unitTicks, (d) => d);
  const line = d3.line()
    .x((d) => x(288.85 + d / 1000))
    .y((d, i) => y(loudLevel[i]))
    .curve(d3.curveMonotoneX);
  marks.append('path').attr('d', line(loudMs))
    .attr('fill', 'none').attr('stroke', BLUE).attr('stroke-width', 1.5).attr('stroke-opacity', 0.8);
}

// spectrum
heading(51, 450, 'Normalized average spectrum, 604 frames');
{
  const box = { x0: 50.8, x1: 482.3, y0: 459.4, y1: 646.2 };
  const x = d3.scaleLog().domain([20, 20000]).range([0, box.x1 - box.x0]);
  const y = d3.scaleLinear().domain([-90, -9.7]).range([box.y1 - box.y0, 0]);
  const marks = makePlot(box, x, y, x.ticks(), labelFrom(specXLabelValues, specXLabelTexts),
    specYTicks, (d) => d);
  const line = d3.line().x((d) => x(d[0])).y((d) => y(d[1]));
  const trace = (lowVals, hi, lo) => {
    const pts = specLowFreq.map((f, i) => [f, lowVals[i]]);
    combFreq.forEach((f, i) => {
      pts.push([f, hi[i]], [f, lo[i]]);
    });
    return pts;
  };
  marks.append('path').attr('d', line(trace(specLowBlue, combBlueHi, combBlueLo)))
    .attr('fill', 'none').attr('stroke', BLUE).attr('stroke-width', 1.5);
  marks.append('path').attr('d', line(trace(specLowRed, combRedHi, combRedLo)))
    .attr('fill', 'none').attr('stroke', RED).attr('stroke-width', 1.5);
  cornerLabel(box, 'dB');
}

// allpassed crest
heading(532, 450, 'Allpassed crest factor');
{
  const box = { x0: 531.3, x1: 720.3, y0: 459.4, y1: 646.2 };
  const x = d3.scaleLog().domain([20, 20000]).range([0, box.x1 - box.x0]);
  const y = d3.scaleLinear().domain([0, 30]).range([box.y1 - box.y0, 0]);
  const marks = makePlot(box, x, y, x.ticks(), labelFrom(crestXLabelValues, crestXLabelTexts),
    crestYTicks, (d) => d);
  const line = d3.line().x((d, i) => x(crestFreq[i])).y((d) => y(d));
  marks.append('line').attr('x1', 0).attr('x2', box.x1 - box.x0)
    .attr('y1', y(crestBlueFlat)).attr('y2', y(crestBlueFlat))
    .attr('stroke', BLUE).attr('stroke-width', 1.2).attr('stroke-dasharray', '5,7');
  marks.append('line').attr('x1', 0).attr('x2', box.x1 - box.x0)
    .attr('y1', y(crestRedFlat)).attr('y2', y(crestRedFlat))
    .attr('stroke', RED).attr('stroke-width', 1.3).attr('stroke-dasharray', '5,7').attr('stroke-opacity', 0.8);
  marks.append('path').attr('d', line(crestBlue))
    .attr('fill', 'none').attr('stroke', BLUE).attr('stroke-width', 1.2).attr('stroke-opacity', 0.85);
  marks.append('path').attr('d', line(crestRed))
    .attr('fill', 'none').attr('stroke', RED).attr('stroke-width', 1.2).attr('stroke-opacity', 0.85);
  cornerLabel(box, 'dB');
}

// histogram
heading(51, 685, 'Histogram, "bits": 15.5/15.6');
{
  const box = { x0: 50.7, x1: 481.7, y0: 695.4, y1: 882 };
  const x = d3.scaleLinear().domain([-1.1, 1.1]).range([0, box.x1 - box.x0]);
  const y = d3.scaleLog().domain([1, histTop]).range([box.y1 - box.y0, 0]);
  const marks = makePlot(box, x, y, histXTicks, (d) => d, y.ticks(),
    labelFrom(histYLabelValues, histYLabelTexts));
  const drawTail = (sign, hi, lo, color) => {
    const area = d3.area()
      .x((d, i) => x(sign * (tailStart + i * tailStep)))
      .y0((d, i) => y(lo[i]))
      .y1((d) => y(d))
      .curve(d3.curveStepAfter);
    marks.append('path').attr('d', area(hi))
      .attr('fill', color).attr('stroke', color).attr('stroke-width', 0.7);
  };
  const drawCore = (hi, lo, color) => {
    const area = d3.area()
      .x((d, i) => x(histCoreX[i]))
      .y0((d, i) => y(lo[i]))
      .y1((d) => y(d));
    marks.append('path').attr('d', area(hi))
      .attr('fill', color).attr('stroke', color).attr('stroke-width', 1);
  };
  drawTail(-1, blueLeftHi, blueLeftLo, BLUE);
  drawTail(1, blueRightHi, blueRightLo, BLUE);
  drawCore(blueCoreHi, blueCoreLo, BLUE);
  drawTail(-1, redLeftHi, redLeftLo, RED);
  drawTail(1, redRightHi, redRightLo, RED);
  drawCore(redCoreHi, redCoreLo, RED);
  cornerLabel(box, 'n');
}

function rings(parent, xs, ys, xFn, yFn, color) {
  parent.append('g').selectAll('circle').data(xs).join('circle')
    .attr('cx', (d) => xFn(d))
    .attr('cy', (d, i) => yFn(ys[i]))
    .attr('r', 3.2)
    .attr('fill', 'none').attr('stroke', color).attr('stroke-width', 1.3).attr('stroke-opacity', 0.75);
}

// peak vs rms
heading(530, 685, 'Peak vs RMS level');
{
  const box = { x0: 529.3, x1: 716.3, y0: 695.4, y1: 882 };
  const x = d3.scaleLinear().domain([-50, 0]).range([0, box.x1 - box.x0]);
  const y = d3.scaleLinear().domain([-50, 0]).range([box.y1 - box.y0, 0]);
  const marks = makePlot(box, x, y, pvrXTicks, (d) => d, pvrYTicks, (d) => d);
  rings(marks, pvrBlueRms, pvrBluePeak, x, y, BLUE);
  rings(marks, pvrRedRms, pvrRedPeak, x, y, RED);
  cornerLabel(box, 'dBFS');
  svg.append('text').attr('x', box.x1).attr('y', box.y1 + 15.5)
    .attr('text-anchor', 'middle').attr('font-family', tickFont).attr('font-size', 12).attr('fill', '#444')
    .text('dBFS');
}

// short term crest
heading(51, 921, 'Short term (1s) crest factor');
heading(343, 921, 'Checksum(energy)\u00a0\u00a0687 150 474 411 560');
{
  const box = { x0: 50.7, x1: 736.3, y0: 931.7, y1: 1036 };
  const x = d3.scaleLinear().domain([0, 605]).range([0, box.x1 - box.x0]);
  const y = d3.scaleLinear().domain([0, 30]).range([box.y1 - box.y0, 0]);
  const marks = makePlot(box, x, y, stXTicks, (d) => d, stYTicks, (d) => d);
  const evenT = (arr) => arr.map((d, i) => i * stStep);
  const betweenT = (arr) => arr.map((d, i) => i * 4 + 1);
  rings(marks, evenT(stBlue).concat(betweenT(stBlueBetween), stEndTime), stBlue.concat(stBlueBetween, stEndBlue), x, y, BLUE);
  rings(marks, evenT(stRed).concat(betweenT(stRedBetween), stEndTime), stRed.concat(stRedBetween, stEndRed), x, y, RED);
  cornerLabel(box, 'dB');
}
</script>
</body>
</html>
